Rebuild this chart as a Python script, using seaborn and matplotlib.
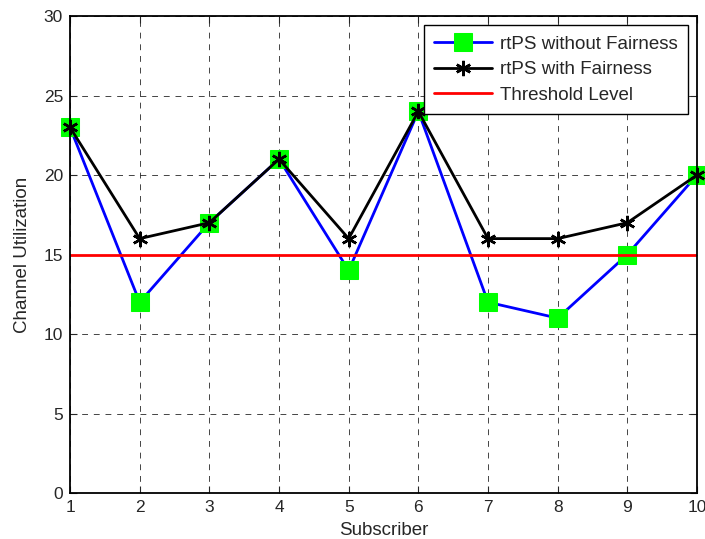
import numpy as np
import pandas as pd
import seaborn as sns
import matplotlib.pyplot as plt

sns.set_style("ticks")
plt.rcParams['font.family'] = ['Liberation Sans', 'DejaVu Sans']

subscribers = [1, 2, 3, 4, 5, 6, 7, 8, 9, 10]
without_fairness = [23, 12, 17, 21, 14, 24, 12, 11, 15, 20]
with_fairness = [23, 16, 17, 21, 16, 24, 16, 16, 17, 20]
threshold = 15

df = pd.DataFrame({'Subscriber': subscribers,
                   'without': without_fairness,
                   'with': with_fairness})

fig = plt.figure(figsize=(7.05, 5.39), dpi=100)
ax = fig.add_axes([0.0993, 0.0853, 0.8894, 0.885])

sns.lineplot(x='Subscriber', y='without', data=df, ax=ax, color='blue',
             linewidth=2, marker='s', markersize=12.5, markerfacecolor='#00ff00',
             markeredgecolor='#00ff00', label='rtPS without Fairness',
             clip_on=False, zorder=3)
sns.lineplot(x='Subscriber', y='with', data=df, ax=ax, color='black',
             linewidth=2, marker=(6, 2, 0), markersize=11, markeredgewidth=1.8,
             markeredgecolor='black', label='rtPS with Fairness',
             clip_on=False, zorder=4)
ax.axhline(threshold, color='red', linewidth=2, label='Threshold Level', zorder=5)

ax.set_xlim(1, 10)
ax.set_ylim(0, 30)
ax.set_xticks(subscribers)
ax.set_yticks(range(0, 31, 5))
ax.grid(True, color='black', linestyle=(0, (7, 7)), linewidth=0.6, alpha=0.85)
ax.tick_params(direction='in', length=5, labelsize=12.5, top=True, right=True,
               width=0.8, pad=5)
for s in ax.spines.values():
    s.set_linewidth(1.3)
    s.set_color('black')
    s.set_zorder(6)

ax.set_xlabel('Subscriber', fontsize=13.5, labelpad=5)
ax.set_ylabel('Channel Utilization', fontsize=13.5, labelpad=9)

leg = ax.legend(loc='upper right', fontsize=13.5, frameon=True, fancybox=False,
                edgecolor='black', framealpha=1, borderaxespad=0.5,
                handlelength=3.1, handletextpad=0.4, labelspacing=0.45,
                borderpad=0.55)
leg.get_frame().set_linewidth(1.0)
leg.set_zorder(10)

fig.savefig('out.png', dpi=100)
